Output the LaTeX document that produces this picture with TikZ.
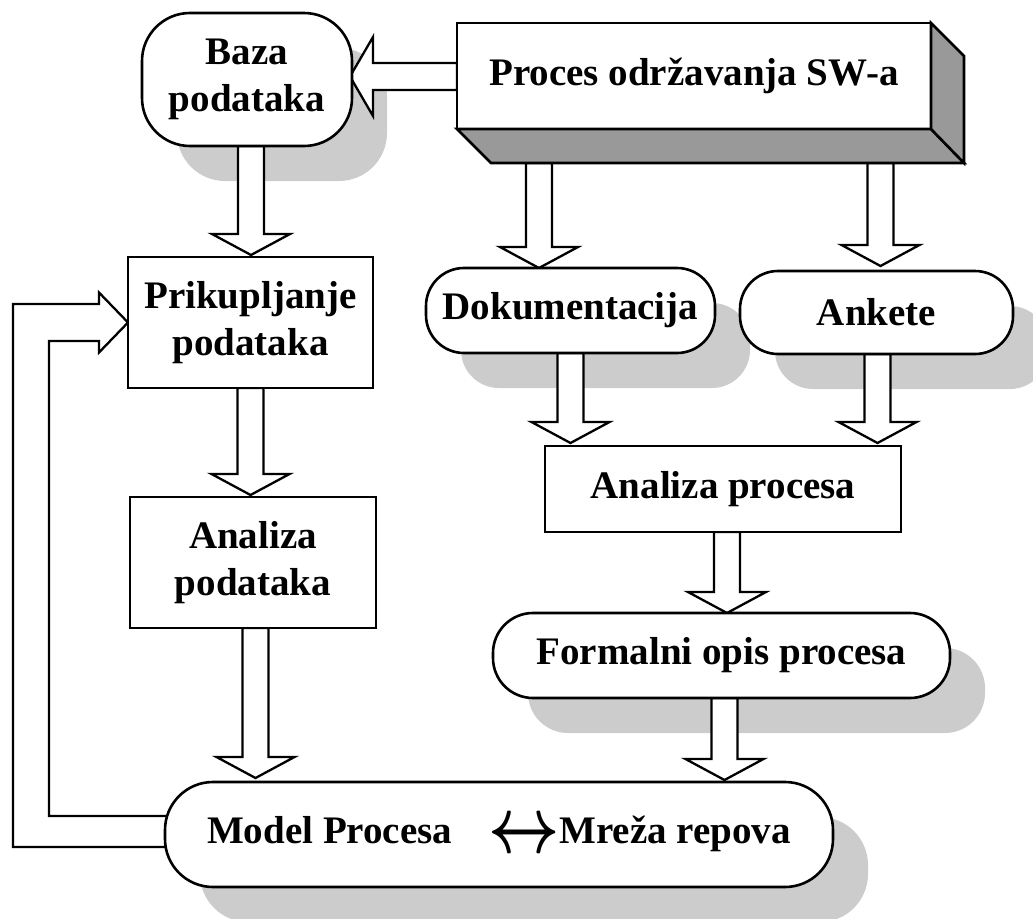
\documentclass[tikz,border=0pt]{standalone}
\usepackage{fontspec}
\setmainfont{Liberation Serif}
\usepackage{graphicx}
\usetikzlibrary{calc}
\pgfdeclarelayer{shadowlayer}
\pgfdeclarelayer{connlayer}
\pgfsetlayers{shadowlayer,connlayer,main}

\tikzset{
  box/.style={draw, line width=2.6pt, fill=white, inner sep=0pt, outer sep=0pt,
    align=center, font=\bfseries\fontsize{39}{47}\selectfont},
  rbox/.style={box, rounded corners=#1},
  blockarr/.style={draw, line width=2.3pt, fill=white, line join=miter},
  shade/.style={fill=black!20},
  face/.style={draw, line width=2.6pt, fill=black!40, line join=miter},
}

% hollow block arrow pointing down: #1 start of the shaft, #2 gives the tip level
\newcommand{\blockdown}[2]{%
  \path #1 coordinate (bkS) #2 coordinate (bkT);
  \draw[blockarr] ($(bkS)+(-13,0)$) -- ($(bkS |- bkT)+(-13,-21)$)
    -- ($(bkS |- bkT)+(-39,-21)$) -- (bkS |- bkT) -- ($(bkS |- bkT)+(39,-21)$)
    -- ($(bkS |- bkT)+(13,-21)$) -- ($(bkS)+(13,0)$) -- cycle;}

% hollow block arrow pointing left
\newcommand{\blockleft}[2]{%
  \path #1 coordinate (bkS) #2 coordinate (bkT);
  \draw[blockarr] ($(bkS)+(0,-13.5)$) -- ($(bkT |- bkS)+(23,-13.5)$)
    -- ($(bkT |- bkS)+(23,-39.5)$) -- (bkT |- bkS) -- ($(bkT |- bkS)+(23,39.5)$)
    -- ($(bkT |- bkS)+(23,13.5)$) -- ($(bkS)+(0,13.5)$) -- cycle;}

% wide two-headed arrow used inside the model label
\newcommand{\bothways}{\raisebox{-9pt}{\scalebox{6.2}[8]{\normalsize\boldmath$\leftrightarrow$}}}

\begin{document}
\begin{tikzpicture}[x=1pt, y=-1pt]
  \clip (0,0) rectangle (1033,918);

  % nodes
  \node[rbox=48pt, minimum width=210pt, minimum height=133pt] (baza) at (247,79.5) {Baza\\podataka};
  \node[box, minimum width=474pt, minimum height=106pt] (proc) at (694,76) {Proces održavanja SW-a};
  \node[rbox=38pt, minimum width=289pt, minimum height=85pt] (doc) at (570.5,310.5) {Dokumentacija};
  \node[rbox=38pt, minimum width=273pt, minimum height=83pt] (ank) at (876.5,312.5) {Ankete};
  \node[box, minimum width=356pt, minimum height=86pt] (anp) at (723,489) {Analiza procesa};
  \node[rbox=40pt, minimum width=457pt, minimum height=85pt] (form) at (721.5,655.5) {Formalni opis procesa};
  \node[rbox=48pt, minimum width=668pt, minimum height=105pt] (model) at (499,834.5)
    {Model Procesa\hspace{36pt}\bothways Mreža repova};
  \node[box, minimum width=245pt, minimum height=131pt] (prik) at (250.5,322.5) {Prikupljanje\\podataka};
  \node[box, minimum width=246pt, minimum height=131pt] (anpod) at (253,562.5) {Analiza\\podataka};

  % extruded faces of the process box
  \draw[face] (proc.south west) -- ($(proc.south west)+(34,34)$) -- ($(proc.south east)+(33,34)$)
    -- (proc.south east) -- cycle;
  \draw[face] (proc.north east) -- ($(proc.north east)+(33,33)$) -- ($(proc.south east)+(33,34)$)
    -- (proc.south east) -- cycle;

  % drop shadows
  \begin{pgfonlayer}{shadowlayer}
    \foreach \n/\r in {baza/48pt, doc/38pt, ank/38pt, form/40pt, model/48pt}
      \fill[shade, rounded corners=\r] ($(\n.south west)+(35,35)$) rectangle ($(\n.north east)+(35,35)$);
  \end{pgfonlayer}

  % connectors
  \begin{pgfonlayer}{connlayer}
    \blockleft{($(proc.west)+(0,0.5)$)}{($(baza.east)+(-2,0)$)}
    \blockdown{($(baza.south)+(4,0)$)}{($(prik.north)+(0,-2)$)}
    \blockdown{(prik.south)}{($(anpod.north)+(0,-2)$)}
    \blockdown{($(anpod.south)+(2.5,0)$)}{($(model.north)+(0,-4)$)}
    \blockdown{($(proc.south west)+(82,34)$)}{(doc.north)}
    \blockdown{($(proc.south west)+(423.5,34)$)}{($(ank.north)+(0,-5)$)}
    \blockdown{(doc.south)}{($(anp.north)+(0,-3)$)}
    \blockdown{($(ank.south)+(1,0)$)}{($(anp.north)+(0,-3)$)}
    \blockdown{($(anp.south)+(4,0)$)}{(form.north)}
    \blockdown{($(form.south)+(3,0)$)}{($(model.north)+(0,-2)$)}
    % feedback loop from the model back to data collection
    \draw[blockarr, fill=none] ($(model.west)+(10,12.5)$) -| ($(prik.west)+(-115,-18.5)$)
      -- ($(prik.west)+(-29,-18.5)$) -- ($(prik.west)+(-29,-30)$) -- (prik.west)
      -- ($(prik.west)+(-29,30)$) -- ($(prik.west)+(-29,18.5)$) -- ($(prik.west)+(-79,18.5)$)
      |- ($(model.west)+(10,-18.5)$);
  \end{pgfonlayer}
\end{tikzpicture}
\end{document}
